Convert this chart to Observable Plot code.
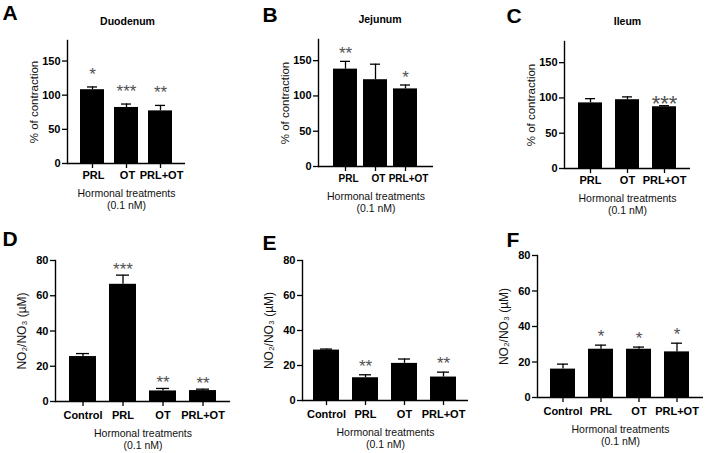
<!DOCTYPE html>
<html>
<head>
<meta charset="utf-8">
<script src="https://cdn.jsdelivr.net/npm/d3@7"></script>
<script src="https://cdn.jsdelivr.net/npm/@observablehq/plot@0.6"></script>
<style>
  html, body { margin: 0; padding: 0; background: #fff; }
  #figure { position: relative; width: 708px; height: 453px; overflow: hidden; background: #fff; }
  #figure > div { position: absolute; }
</style>
</head>
<body>
<div id="figure"></div>
<script>
// Treatment groups
const contractionGroups = ["PRL", "OT", "PRL+OT"];
const nitriteGroups = ["Control", "PRL", "OT", "PRL+OT"];

// Intestinal contraction (% of control), mean and SEM
const duodenumMean = [108, 82, 77];
const duodenumSem = [4, 5, 8];
const duodenumStars = ["*", "***", "**"];

const jejunumMean = [138, 123, 110];
const jejunumSem = [11, 22, 5.5];
const jejunumStars = ["**", "", "*"];

const ileumMean = [93, 97.5, 87.5];
const ileumSem = [6, 4, 1.5];
const ileumStars = ["", "", "***"];

// NO2/NO3 concentration (µM), mean and SEM
const nitriteDMean = [25.5, 66.5, 6, 6.2];
const nitriteDSem = [1.7, 5.2, 1.4, 0.8];
const nitriteDStars = ["", "***", "**", "**"];

const nitriteEMean = [28.8, 13, 21.2, 13.4];
const nitriteESem = [0.6, 1.7, 2.5, 2.8];
const nitriteEStars = ["", "**", "", "**"];

const nitriteFMean = [16, 27.2, 27.2, 25.7];
const nitriteFSem = [2.8, 2.3, 1.2, 4.9];
const nitriteFStars = ["", "*", "*", "*"];

const contractionTicks = [0, 50, 100, 150];
const nitriteTicks = [0, 20, 40, 60, 80];

const contractionLabel = "% of contraction";
const nitriteLabel = "NO\u2082/NO\u2083 (\u00B5M)";
const treatmentLabel = "Hormonal treatments\n(0.1 nM)";

const panels = [
  {letter: "A", title: "Duodenum", groups: contractionGroups, mean: duodenumMean, sem: duodenumSem, stars: duodenumStars,
   yMax: 180, ticks: contractionTicks, ylabel: contractionLabel, ylabelSize: 11.5,
   box: {left: 0, top: 0, width: 236, height: 215, mL: 67, mT: 40, mR: 51, mB: 52},
   pad: [0.29, 0.36], letterAt: [2, 5], titleDy: -19, titleDx: 1, starSize: 17, starDy: -7,
   xPad: 3, xTitleDy: 25, xFont: 11, xDx: 1},
  {letter: "B", title: "Jejunum", groups: contractionGroups, mean: jejunumMean, sem: jejunumSem, stars: jejunumStars,
   yMax: 180, ticks: contractionTicks, ylabel: contractionLabel, ylabelSize: 11.5,
   box: {left: 236, top: 0, width: 236, height: 218, mL: 82, mT: 39, mR: 39, mB: 52},
   pad: [0.19, 0.46], letterAt: [26, 7], titleDy: -20, titleDx: 4, starSize: 17, starDy: -2,
   xPad: 3, xTitleDy: 25, xFont: 10, xDx: 3},
  {letter: "C", title: "Ileum", groups: contractionGroups, mean: ileumMean, sem: ileumSem, stars: ileumStars,
   yMax: 180, ticks: contractionTicks, ylabel: contractionLabel, ylabelSize: 11.5,
   box: {left: 472, top: 0, width: 236, height: 220, mL: 92, mT: 41, mR: 18, mB: 52},
   pad: [0.34, 0.34], letterAt: [34, 8], titleDy: -20, titleDx: 0, starSize: 22, starDy: 5,
   xPad: 3, xTitleDy: 25, xFont: 11, xDx: 0},
  {letter: "D", title: null, groups: nitriteGroups, mean: nitriteDMean, sem: nitriteDSem, stars: nitriteDStars,
   yMax: 80, ticks: nitriteTicks, ylabel: nitriteLabel, ylabelSize: 12,
   box: {left: 0, top: 225, width: 236, height: 228, mL: 55, mT: 35, mR: 6, mB: 52},
   pad: [0.33, 0.35], letterAt: [2, 6], starSize: 17, starDy: 0,
   xPad: 4.5, xTitleDy: 27, xFont: 11, xDx: 0},
  {letter: "E", title: null, groups: nitriteGroups, mean: nitriteEMean, sem: nitriteESem, stars: nitriteEStars,
   yMax: 80, ticks: nitriteTicks, ylabel: nitriteLabel, ylabelSize: 12,
   box: {left: 236, top: 225, width: 236, height: 228, mL: 66, mT: 35, mR: 4, mB: 53},
   pad: [0.33, 0.29], letterAt: [26, 10], starSize: 17, starDy: -3,
   xPad: 4.5, xTitleDy: 27, xFont: 11, xDx: 0},
  {letter: "F", title: null, groups: nitriteGroups, mean: nitriteFMean, sem: nitriteFSem, stars: nitriteFStars,
   yMax: 80, ticks: nitriteTicks, ylabel: nitriteLabel, ylabelSize: 12,
   box: {left: 472, top: 225, width: 236, height: 228, mL: 65, mT: 30, mR: 5, mB: 56},
   pad: [0.33, 0.31], letterAt: [34, 7], starSize: 17, starDy: -3,
   xPad: 4.5, xTitleDy: 27, xFont: 11, xDx: 0}
];

const sansFont = "'Liberation Sans', Arial, Helvetica, sans-serif";

function drawPanel(p) {
  const rows = p.groups.map((g, i) => ({group: g, mean: p.mean[i], sem: p.sem[i], top: p.mean[i] + p.sem[i], stars: p.stars[i]}));
  const b = p.box;
  const marks = [
    Plot.barY(rows, {x: "group", y: "mean", fill: "black"}),
    // upper error bar: stem and cap
    Plot.ruleX(rows, {x: "group", y1: "mean", y2: "top", stroke: "black", strokeWidth: 1.3}),
    Plot.tickY(rows, {x: "group", y: "top", stroke: "black", strokeWidth: 1.3, insetLeft: 7, insetRight: 7}),
    // significance asterisks
    Plot.text(rows, {x: "group", y: "top", text: "stars", lineAnchor: "bottom", dy: p.starDy,
      fontSize: p.starSize, fill: "#505050"}),
    Plot.axisY({ticks: p.ticks, tickSize: 5, tickPadding: 2, strokeWidth: 1.3, fontSize: 11, fontWeight: "bold", label: null}),
    Plot.axisX({tickSize: 5, tickPadding: p.xPad, strokeWidth: 1.3, fontSize: p.xFont, fontWeight: "bold", label: null, text: null}),
    Plot.axisX({tickSize: 0, tickPadding: p.xPad + 5, dx: p.xDx, fontSize: p.xFont, fontWeight: "bold", label: null}),
    Plot.ruleY([0], {stroke: "black", strokeWidth: 1.4}),
    Plot.frame({anchor: "left", stroke: "black", strokeWidth: 1.4}),
    Plot.text([p.ylabel], {frameAnchor: "left", dx: -33, rotate: -90, lineAnchor: "middle", textAnchor: "middle",
      fontSize: p.ylabelSize, fill: "#111"}),
    Plot.text([treatmentLabel], {frameAnchor: "bottom", dy: p.xTitleDy, lineAnchor: "top", textAnchor: "middle",
      lineHeight: 1.12, fontSize: 10.5, fill: "#111"}),
    Plot.text([p.letter], {frameAnchor: "top-left", dx: p.letterAt[0] - b.mL, dy: p.letterAt[1] - b.mT,
      textAnchor: "start", lineAnchor: "top", fontSize: 21, fontWeight: "bold", fill: "black"})
  ];
  if (p.title) {
    marks.push(Plot.text([p.title], {frameAnchor: "top", dx: p.titleDx, dy: p.titleDy, lineAnchor: "middle",
      textAnchor: "middle", fontSize: 10.5, fontWeight: "bold", fill: "black"}));
  }
  const chart = Plot.plot({
    width: b.width, height: b.height,
    marginLeft: b.mL, marginTop: b.mT, marginRight: b.mR, marginBottom: b.mB,
    style: {background: "none", color: "black", fontFamily: sansFont, overflow: "visible"},
    x: {domain: p.groups, paddingInner: p.pad[0], paddingOuter: p.pad[1], label: null},
    y: {domain: [0, p.yMax], label: null},
    marks
  });
  const holder = document.createElement("div");
  holder.style.left = b.left + "px";
  holder.style.top = b.top + "px";
  holder.appendChild(chart);
  document.getElementById("figure").appendChild(holder);
}

panels.forEach(drawPanel);
</script>
</body>
</html>
